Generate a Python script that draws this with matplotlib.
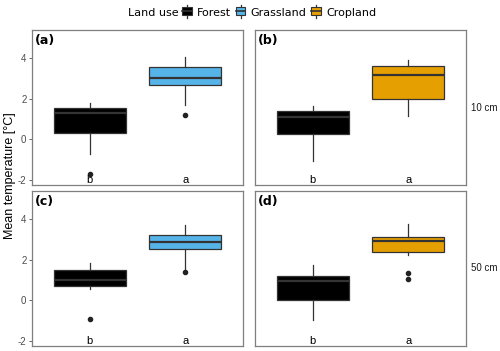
import matplotlib
matplotlib.use("Agg")
import matplotlib.pyplot as plt
from matplotlib.legend_handler import HandlerBase
from matplotlib.patches import Rectangle
from matplotlib.lines import Line2D

# --- datos ---
PANEL_TAGS = ["(a)", "(b)", "(c)", "(d)"]
DEPTHS = ["10 cm", "50 cm"]
LAND_USES = ["Forest", "Grassland", "Cropland"]
COLORS = {"Forest": "#000000", "Grassland": "#56B4E9", "Cropland": "#E69F00"}
PANEL_OTHER = ["Grassland", "Cropland", "Grassland", "Cropland"]
LETTERS = ["b", "a"]
LETTER_Y = -2

FOREST_WHISLO = [-0.70, -1.08, 0.55, -0.98]
FOREST_Q1 = [0.33, 0.27, 0.71, 0.03]
FOREST_MED = [1.31, 1.13, 1.00, 0.98]
FOREST_Q3 = [1.54, 1.38, 1.49, 1.18]
FOREST_WHISHI = [1.79, 1.66, 1.83, 1.74]
FOREST_FLIERS = [[-1.69], [], [-0.91], []]

OTHER_WHISLO = [1.68, 1.16, 1.56, 2.26]
OTHER_Q1 = [2.67, 1.98, 2.52, 2.41]
OTHER_MED = [3.04, 3.20, 2.89, 2.92]
OTHER_Q3 = [3.57, 3.60, 3.25, 3.12]
OTHER_WHISHI = [4.07, 3.93, 3.70, 3.78]
OTHER_FLIERS = [[1.21], [], [1.39], [1.34, 1.05]]

YTICKS = [-2, 0, 2, 4]

EDGE = "#333333"
BORDER = "#7F7F7F"
TICKCOL = "#4D4D4D"


class BoxKeyHandler(HandlerBase):
    def create_artists(self, legend, orig_handle, xd, yd, w, h, fontsize, trans):
        col = orig_handle.get_facecolor()
        cx = -xd + w / 2
        cy = -yd + h / 2 + 0.8
        bw, bh = 7.0, 6.0  # en puntos
        box = Rectangle((cx - bw / 2, cy - bh / 2), bw, bh,
                        facecolor=col, edgecolor=EDGE, lw=0.8, transform=trans)
        whisk = Line2D([cx, cx], [cy - 4.8, cy + 4.8], color=EDGE,
                       lw=0.9, transform=trans)
        med = Line2D([cx - bw / 2, cx + bw / 2], [cy, cy],
                     color=EDGE, lw=1.2, transform=trans)
        return [whisk, box, med]


fig = plt.figure(figsize=(5.0, 3.51), dpi=100)

lefts = [0.064, 0.51, 0.064, 0.51]
bottoms = [0.4729, 0.4729, 0.0143, 0.0143]
W, H = 0.422, 0.4416

for i in range(4):
    ax = fig.add_axes([lefts[i], bottoms[i], W, H])
    stats = [
        dict(whislo=FOREST_WHISLO[i], q1=FOREST_Q1[i], med=FOREST_MED[i],
             q3=FOREST_Q3[i], whishi=FOREST_WHISHI[i], fliers=FOREST_FLIERS[i]),
        dict(whislo=OTHER_WHISLO[i], q1=OTHER_Q1[i], med=OTHER_MED[i],
             q3=OTHER_Q3[i], whishi=OTHER_WHISHI[i], fliers=OTHER_FLIERS[i]),
    ]
    bp = ax.bxp(stats, positions=[1, 2], widths=0.75, patch_artist=True,
                showcaps=False,
                boxprops=dict(edgecolor=EDGE, linewidth=0.9),
                whiskerprops=dict(color=EDGE, linewidth=0.9),
                medianprops=dict(color=EDGE, linewidth=1.6),
                flierprops=dict(marker="o", markerfacecolor="#222222",
                                markeredgecolor="#222222", markersize=3))
    bp["boxes"][0].set_facecolor(COLORS["Forest"])
    bp["boxes"][1].set_facecolor(COLORS[PANEL_OTHER[i]])

    for x, lt in zip([1, 2], LETTERS):
        ax.text(x, LETTER_Y, lt, ha="center", va="center", fontsize=8,
                family="Liberation Sans", color="black")

    ax.text(0.015, 0.975, PANEL_TAGS[i], transform=ax.transAxes, ha="left",
            va="top", fontsize=9, fontweight="bold", family="DejaVu Sans")

    ax.set_xlim(0.4, 2.6)
    ax.set_ylim(-2.25, 5.4)
    ax.set_xticks([])
    ax.set_yticks(YTICKS)
    if i % 2 == 0:
        ax.set_yticklabels([str(t) for t in YTICKS], family="Liberation Sans",
                           fontsize=7, color=TICKCOL)
        ax.tick_params(axis="y", length=2.5, width=0.6, color=TICKCOL, pad=1.5)
    else:
        ax.tick_params(axis="y", length=0, labelleft=False)
        ax.text(1.025, 0.5, DEPTHS[i // 2], transform=ax.transAxes, ha="left",
                va="center", fontsize=7, family="Liberation Sans",
                color="#1A1A1A")
    for sp in ax.spines.values():
        sp.set_color(BORDER)
        sp.set_linewidth(0.9)

fig.text(0.02, 0.5, "Mean temperature [°C]", rotation=90, ha="center",
         va="center", fontsize=9, family="Liberation Sans")

handles = [Rectangle((0, 0), 1, 1, facecolor=COLORS[lu]) for lu in LAND_USES]
leg = fig.legend(handles, LAND_USES, loc="center", bbox_to_anchor=(0.558, 0.963),
                 ncol=3, frameon=False, handler_map={Rectangle: BoxKeyHandler()},
                 handlelength=0.9, handleheight=0.9, handletextpad=0.45,
                 columnspacing=0.4, prop=dict(family="DejaVu Sans", size=8))
# título a la izquierda, en la misma línea
fig.text(0.357, 0.963, "Land use", ha="right", va="center", fontsize=8,
         family="DejaVu Sans")

fig.savefig("out.png", dpi=100)
